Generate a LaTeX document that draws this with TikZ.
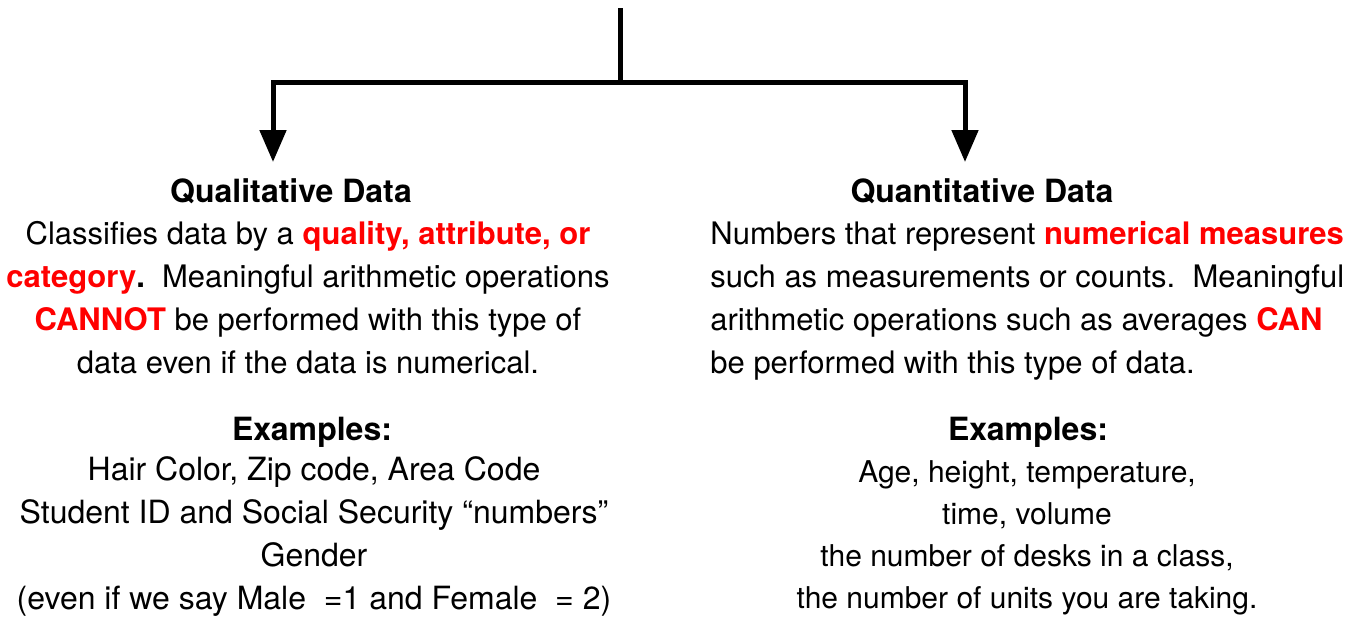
\documentclass[tikz,border=0pt]{standalone}
\usepackage{fontspec}
\setmainfont{TeX Gyre Heros}
\usepackage{tikz}
\usetikzlibrary{positioning,arrows.meta}
\usepackage{xcolor}

\begin{document}
\begin{tikzpicture}[
  x=0.5pt, y=-0.5pt,
  txt/.style={inner sep=0pt, font=\fontsize{16}{21.5}\selectfont},
  body/.style={inner sep=0pt, font=\fontsize{15.5}{21.5}\selectfont},
  small/.style={inner sep=0pt, font=\fontsize{15}{21}\selectfont},
  head/.style={txt, font=\fontsize{16}{21.5}\selectfont\bfseries},
  line/.style={line width=2.5pt},
  arr/.style={line, -{Triangle[length=16pt, width=13pt]}}
]
\useasboundingbox (0,0) rectangle (1370,616);

% branching connector
\coordinate (top) at (620,8);
\coordinate (split) at (620,82);
\coordinate (tipL) at (273,162);
\coordinate (tipR) at (965,162);

\draw[line] (top) -- (split);
\draw[arr] (split) -| (tipL);
\draw[arr] (split) -| (tipR);

% left side (base anchor = last line)
\node[head, anchor=base] (qualHead) at (291,202) {Qualitative Data};
\node[body, anchor=base, align=center] (qualText) at (308,373)
  {Classifies data by a \textcolor{red}{\textbf{quality, attribute, or}}\\
   \textcolor{red}{\textbf{category}}\textbf{.}\ \ Meaningful arithmetic operations\\
   \textcolor{red}{\textbf{CANNOT}} be performed with this type of\\
   data even if the data is numerical.};

\node[head, anchor=base] (qualEx) at (312,440) {Examples:};
\node[txt, anchor=base, align=center] (qualList) at (314,609)
  {Hair Color, Zip code, Area Code\\
   Student ID and Social Security ``numbers''\\
   Gender\\
   (even if we say Male\ \ =1 and Female\ \ = 2)};

% right side
\node[head, anchor=base] (quanHead) at (982,202) {Quantitative Data};
\node[body, anchor=base west, align=left] (quanText) at (710,373)
  {Numbers that represent \textcolor{red}{\textbf{numerical measures}}\\
   such as measurements or counts.\ \ Meaningful\\
   arithmetic operations such as averages \textcolor{red}{\textbf{CAN}}\\
   be performed with this type of data.};

\node[head, anchor=base] (quanEx) at (1028,440) {Examples:};
\node[small, anchor=base, align=center] (quanList) at (1027,608)
  {Age, height, temperature,\\
   time, volume\\
   the number of desks in a class,\\
   the number of units you are taking.};
\end{tikzpicture}
\end{document}
